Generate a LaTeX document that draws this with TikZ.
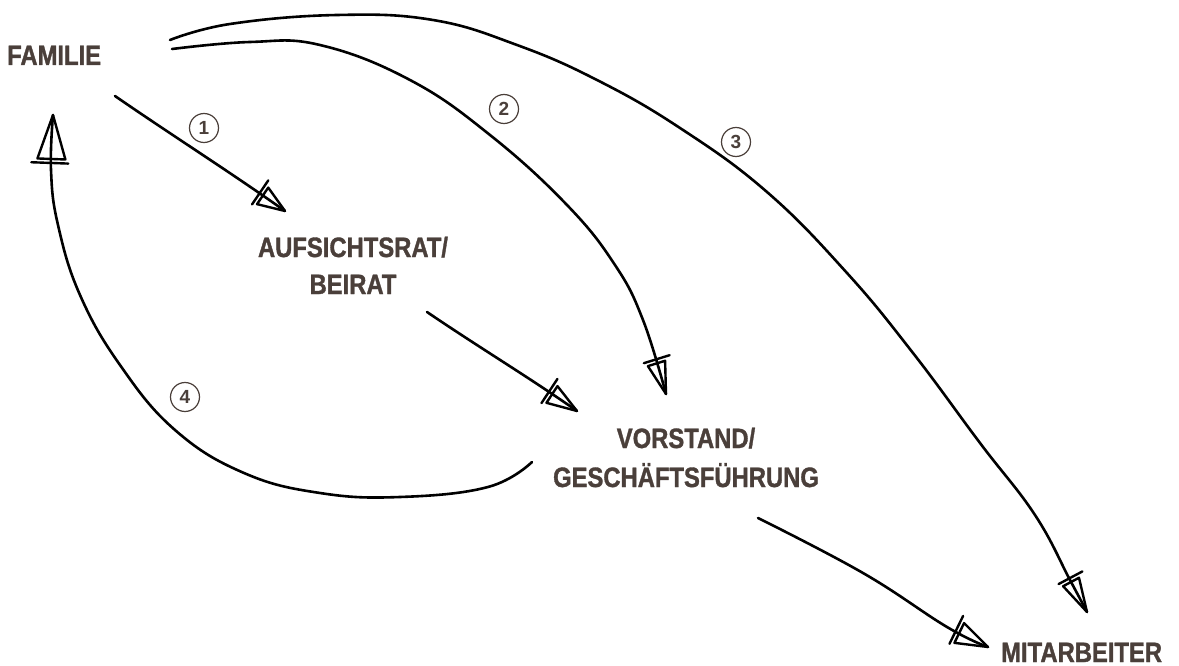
\documentclass[tikz,border=0pt]{standalone}
\usepackage{fontspec}
\newfontfamily\lbl{Liberation Sans}[UprightFont=* Bold, FakeStretch=0.85, FakeBold=1.2]
\newfontfamily\numf{Liberation Sans}[UprightFont=* Bold]
\usetikzlibrary{calc}
\definecolor{txt}{RGB}{74,63,58}
\tikzset{
  label/.style={font=\lbl\fontsize{28}{38}\selectfont, text=txt, inner sep=0pt, align=center},
  num/.style={circle, draw=txt, line width=1.2pt, minimum size=29pt, inner sep=0pt, text=txt, font=\numf\fontsize{19}{19}\selectfont},
  stroke/.style={draw=black, line width=2.6pt, line cap=round, line join=round},
  headstroke/.style={draw=black, line width=2.4pt, line cap=round, line join=round}
}
% #1 point before tip, #2 tip, #3 head length, #4 half width
\newcommand\arrowhd[4]{%
  \coordinate (hb) at ($(#2)!#3pt!(#1)$);
  \coordinate (hc) at ($(#2)!#3pt+4pt!(#1)$);
  \draw[headstroke] ($(hb)!#4pt!90:(#2)$) -- (#2) -- ($(hb)!#4pt!-90:(#2)$) -- cycle;
  \draw[headstroke] ($(hc)!#4pt+6pt!90:(#2)$) -- ($(hc)!#4pt+3pt!-90:(#2)$);
}
\begin{document}
\begin{tikzpicture}[x=1pt,y=-1pt]
\useasboundingbox (0,0) rectangle (1179,666);
\fill[white] (0,0) rectangle (1179,666);
% labels
\node[label, anchor=base west] (fam) at (7,65) {FAMILIE};
\node[label, anchor=base, font=\lbl\fontsize{28}{37}\selectfont] (ar) at (353,294) {AUFSICHTSRAT/\\BEIRAT};
\node[label, anchor=base, font=\lbl\fontsize{28}{39}\selectfont] (vg) at (686,487) {VORSTAND/\\GESCHÄFTSFÜHRUNG};
\node[label, anchor=base west] (mit) at (1001,662) {MITARBEITER};
% numbers
\node[num] (n1) at (204,128) {1};
\node[num] (n2) at (504,109) {2};
\node[num] (n3) at (736,142) {3};
\node[num] (n4) at (185,397) {4};
% connector end points
\coordinate (f1) at (115,96);
\coordinate (a1) at (285,211);
\coordinate (a2) at (427,312);
\coordinate (v1) at (577,411);
\coordinate (f2) at (172,49);
\coordinate (p2) at (643,320);
\coordinate (v2) at (666,394);
\coordinate (f3) at (170,40);
\coordinate (p3) at (1070,580);
\coordinate (m3) at (1087,612);
\coordinate (v4) at (758,518);
\coordinate (p4) at (947,627);
\coordinate (m4) at (988,647);
\coordinate (v5) at (532,462);
\coordinate (p5) at (51,170);
\coordinate (f5) at (53,115);
% connectors
\draw[stroke] (f1) .. controls (170,134) and (230,172) .. (a1);
\arrowhd{f1}{a1}{27}{10}
\draw[stroke] (a2) .. controls (480,348) and (530,378) .. (v1);
\arrowhd{a2}{v1}{30}{10}
\draw[stroke] plot[smooth, tension=0.7] coordinates {(f2) (250,42) (320,45) (410,80) (490,135) (567,205) (615,265) (p2) (v2)};
\arrowhd{p2}{v2}{32}{9}
\draw[stroke] plot[smooth, tension=0.7] coordinates {(f3) (230,24) (337,15) (433,20) (517,45) (597,80) (680,128) (767,192) (847,273) (913,353) (980,443) (1035,515) (p3) (m3)};
\arrowhd{p3}{m3}{34}{9}
\draw[stroke] plot[smooth, tension=0.7] coordinates {(v4) (863,573) (p4) (m4)};
\arrowhd{p4}{m4}{32}{11}
\draw[stroke] plot[smooth, tension=0.7] coordinates {(v5) (488,487) (400,497) (320,493) (244,473) (175,430) (120,365) (80,295) (58,225) (p5) (f5)};
\arrowhd{p5}{f5}{44}{14}
\end{tikzpicture}
\end{document}
